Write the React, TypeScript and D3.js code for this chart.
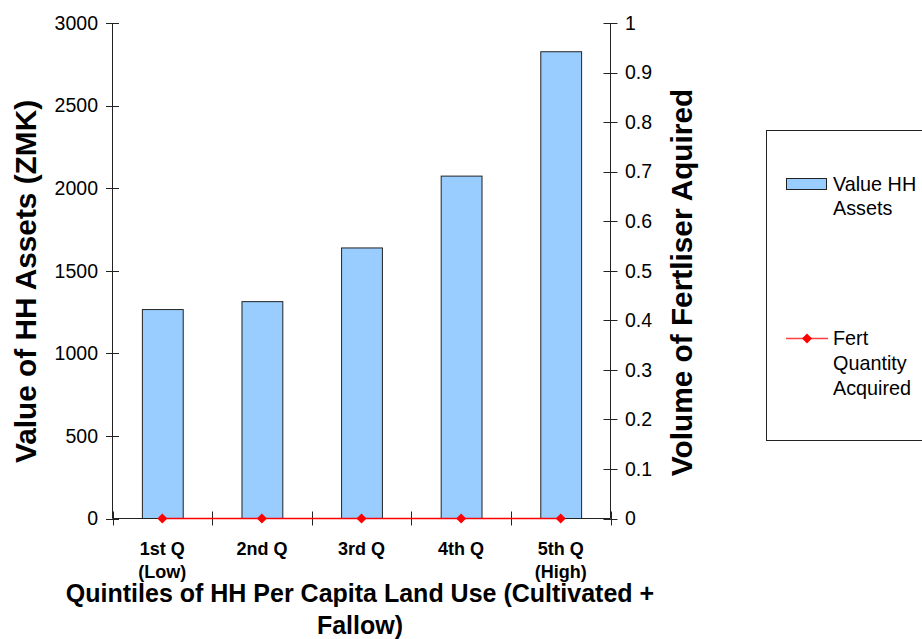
import * as d3 from "d3";

const categories = ["1st Q\n(Low)", "2nd Q", "3rd Q", "4th Q", "5th Q\n(High)"];
const assetValues = [1265, 1313, 1638, 2073, 2826];
const fertValues = [0, 0, 0, 0, 0];
const leftTicks = [0, 500, 1000, 1500, 2000, 2500, 3000];
const rightTicks = [0, 0.1, 0.2, 0.3, 0.4, 0.5, 0.6, 0.7, 0.8, 0.9, 1];

const W = 922;
const H = 639;
const FONT = "'Liberation Sans', Arial, sans-serif";
const x0 = 112.5;
const x1 = 610.5;
const yBottom = 518.5;
const yTop = 23;

export default function App() {
  const x = d3
    .scaleBand<string>()
    .domain(categories)
    .range([x0, x1])
    .paddingInner(0.59)
    .paddingOuter(0.295);
  const step = x.step();
  const yL = d3.scaleLinear().domain([0, 3000]).range([yBottom, yTop]);
  const yR = d3.scaleLinear().domain([0, 1]).range([yBottom, yTop]);

  const line = d3
    .line<number>()
    .x((_, i) => (x(categories[i]) as number) + x.bandwidth() / 2)
    .y((d) => yR(d));

  const diamond = (cx: number, cy: number, r: number) =>
    `M${cx},${cy - r}L${cx + r},${cy}L${cx},${cy + r}L${cx - r},${cy}Z`;

  return (
    <svg
      width={W}
      height={H}
      style={{ position: "absolute", left: 0, top: 0, background: "#fff" }}
      fontFamily={FONT}
    >
      {/* bars */}
      {assetValues.map((v, i) => (
        <rect
          key={i}
          x={(x(categories[i]) as number) + 0.5}
          y={yL(v)}
          width={x.bandwidth()}
          height={yBottom - yL(v)}
          fill="#99CCFF"
          stroke="#222"
          strokeWidth={1}
        />
      ))}

      {/* left axis */}
      <line x1={x0} x2={x0} y1={yTop} y2={yBottom} stroke="#222" />
      {leftTicks.map((t) => (
        <g key={t}>
          <line x1={x0 - 6.5} x2={x0 + 6.5} y1={Math.round(yL(t)) + 0.5} y2={Math.round(yL(t)) + 0.5} stroke="#222" />
          <text x={98} y={yL(t)} dy="0.35em" textAnchor="end" fontSize={19.5}>
            {t}
          </text>
        </g>
      ))}

      {/* right axis */}
      <line x1={x1} x2={x1} y1={yTop} y2={yBottom} stroke="#222" />
      {rightTicks.map((t) => (
        <g key={t}>
          <line x1={x1 - 7} x2={x1 + 7} y1={Math.round(yR(t)) + 0.5} y2={Math.round(yR(t)) + 0.5} stroke="#222" />
          <text x={625} y={yR(t)} dy="0.35em" textAnchor="start" fontSize={19.5}>
            {t}
          </text>
        </g>
      ))}

      {/* x axis */}
      <line x1={x0} x2={x1} y1={yBottom} y2={yBottom} stroke="#222" />
      {d3.range(categories.length + 1).map((i) => (
        <line
          key={i}
          x1={Math.round(x0 + i * step) + 0.5}
          x2={Math.round(x0 + i * step) + 0.5}
          y1={yBottom - 7}
          y2={yBottom + 7}
          stroke="#222"
        />
      ))}
      {categories.map((c) =>
        c.split("\n").map((s, j) => (
          <text
            key={c + j}
            x={(x(c) as number) + x.bandwidth() / 2}
            y={555 + j * 23}
            textAnchor="middle"
            fontSize={18}
            fontWeight="bold"
          >
            {s}
          </text>
        ))
      )}

      {/* fert line */}
      <path d={line(fertValues) ?? ""} fill="none" stroke="#FF0000" strokeWidth={1.5} />
      {fertValues.map((v, i) => (
        <path
          key={i}
          d={diamond((x(categories[i]) as number) + x.bandwidth() / 2, yR(v), 5)}
          fill="#FF0000"
        />
      ))}

      {/* axis titles */}
      <text
        transform={`translate(36,281.5) rotate(-90)`}
        textAnchor="middle"
        fontSize={29.8}
        fontWeight="bold"
      >
        Value of HH Assets (ZMK)
      </text>
      <text
        transform={`translate(692,282.5) rotate(-90)`}
        textAnchor="middle"
        fontSize={29.8}
        fontWeight="bold"
      >
        Volume of Fertliser Aquired
      </text>
      <text x={360} y={602} textAnchor="middle" fontSize={25} fontWeight="bold">
        Quintiles of HH Per Capita Land Use (Cultivated +
      </text>
      <text x={360} y={634} textAnchor="middle" fontSize={25} fontWeight="bold">
        Fallow)
      </text>

      {/* legend */}
      <rect x={766.5} y={130.5} width={200} height={310} fill="#fff" stroke="#222" />
      <rect x={786.5} y={178.5} width={40} height={11} fill="#99CCFF" stroke="#222" />
      <text x={833} y={191} fontSize={19.8}>Value HH</text>
      <text x={833} y={215} fontSize={19.8}>Assets</text>
      <line x1={786} x2={828} y1={338.5} y2={338.5} stroke="#FF4040" strokeWidth={1.5} />
      <path d={diamond(807, 338.5, 5)} fill="#FF0000" />
      <text x={833} y={345} fontSize={19.8}>Fert</text>
      <text x={833} y={370} fontSize={19.8}>Quantity</text>
      <text x={833} y={395} fontSize={19.8}>Acquired</text>
    </svg>
  );
}
